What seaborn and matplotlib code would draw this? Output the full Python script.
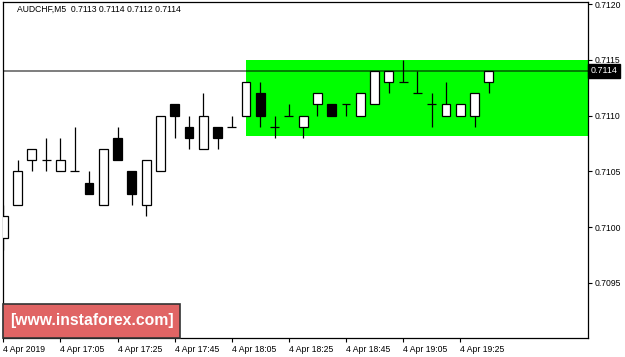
import numpy as np
import pandas as pd
import matplotlib
matplotlib.use("Agg")
import matplotlib.pyplot as plt
import matplotlib.transforms as mtransforms
from matplotlib.patches import Rectangle
import seaborn as sns

# ---- data (AUDCHF M5, 4 Apr 2019, from 16:45) ----
opens  = [0.7099, 0.7102, 0.7106, 0.7106, 0.7105, 0.7105, 0.7104, 0.7102, 0.7108, 0.7105,
          0.7102, 0.7105, 0.7111, 0.7109, 0.7107, 0.7109, 0.7109, 0.7110, 0.7112, 0.7109,
          0.7110, 0.7109, 0.7111, 0.7111, 0.7111, 0.7110, 0.7111, 0.7113, 0.7113, 0.7112,
          0.7111, 0.7110, 0.7110, 0.7110, 0.7113]
highs  = [0.7102, 0.7106, 0.7107, 0.7108, 0.7108, 0.7109, 0.7105, 0.7107, 0.7109, 0.7105,
          0.7106, 0.7110, 0.7111, 0.7110, 0.7112, 0.7109, 0.7110, 0.7113, 0.7113, 0.7110,
          0.7111, 0.7110, 0.7112, 0.7111, 0.7111, 0.7112, 0.7114, 0.7114, 0.7115, 0.7114,
          0.7112, 0.7113, 0.7111, 0.7112, 0.7114]
lows   = [0.7098, 0.7102, 0.7105, 0.7105, 0.7105, 0.7105, 0.7103, 0.7102, 0.7106, 0.7102,
          0.7101, 0.7105, 0.7108, 0.7107, 0.7107, 0.7107, 0.7109, 0.7110, 0.7109, 0.7108,
          0.7110, 0.7108, 0.7110, 0.7110, 0.7110, 0.7110, 0.7111, 0.7112, 0.7113, 0.7112,
          0.7109, 0.7110, 0.7110, 0.7109, 0.7112]
closes = [0.7101, 0.7105, 0.7107, 0.7106, 0.7106, 0.7105, 0.7103, 0.7107, 0.7106, 0.7103,
          0.7106, 0.7110, 0.7110, 0.7108, 0.7110, 0.7108, 0.7109, 0.7113, 0.7110, 0.7109,
          0.7110, 0.7110, 0.7112, 0.7110, 0.7111, 0.7112, 0.7114, 0.7114, 0.7113, 0.7112,
          0.7111, 0.7111, 0.7111, 0.7112, 0.7114]

xtick_bars   = [0, 4, 8, 12, 16, 20, 24, 28, 32]
xtick_labels = ["4 Apr 2019", "4 Apr 17:05", "4 Apr 17:25", "4 Apr 17:45", "4 Apr 18:05",
                "4 Apr 18:25", "4 Apr 18:45", "4 Apr 19:05", "4 Apr 19:25"]
ytick_values = [0.7095, 0.7100, 0.7105, 0.7110, 0.7115, 0.7120]

zone_start_bar = 17
zone_top = 0.7115
zone_bottom = 0.71082
current_price = 0.7114
title_text = "AUDCHF,M5  0.7113 0.7114 0.7112 0.7114"
watermark = "[www.instaforex.com]"

df = pd.DataFrame({"open": opens, "high": highs, "low": lows, "close": closes})
df["bar"] = np.arange(len(df))

sns.set_theme(style="white")
plt.rcParams["font.family"] = ["Liberation Sans", "DejaVu Sans"]

W, H = 625, 357
fig = plt.figure(figsize=(W / 100, H / 100), dpi=100)
ax = fig.add_axes([3 / W, 1 - 338 / H, 585 / W, 336 / H])

# zone
ax.add_patch(Rectangle((zone_start_bar, zone_bottom), 100, zone_top - zone_bottom,
                       facecolor="#00FF00", edgecolor="none", zorder=1))
# current price line
ax.axhline(current_price, color="black", alpha=0.55, lw=1.3, zorder=2)

# wicks
ax.vlines(df["bar"], df["low"], df["high"], color="black", lw=0.9, zorder=3)

# bodies
up = df[df["close"] > df["open"]]
dn = df[df["close"] < df["open"]]
dj = df[df["close"] == df["open"]]
bw = 0.62
ax.bar(up["bar"], up["close"] - up["open"], bottom=up["open"], width=bw,
       color="white", edgecolor="black", linewidth=0.9, zorder=4)
ax.bar(dn["bar"], dn["close"] - dn["open"], bottom=dn["open"], width=bw,
       color="black", edgecolor="black", linewidth=0.9, zorder=4)
ax.hlines(dj["open"], dj["bar"] - bw / 2, dj["bar"] + bw / 2, color="black", lw=0.9, zorder=4)

# limits
px_per_bar = 14.28
x0 = 3.3
ax.set_xlim((3 - x0) / px_per_bar, (588 - x0) / px_per_bar)
ax.set_ylim(0.709007, 0.712018)

# ticks
ax.set_xticks(xtick_bars)
ax.set_xticklabels(xtick_labels, ha="left")
ax.yaxis.tick_right()
ax.set_yticks(ytick_values)
ax.set_yticklabels([f"{v:.4f}" for v in ytick_values])
ax.tick_params(axis="both", direction="out", length=3, width=0.8, labelsize=6.2,
               colors="black", pad=2)
ax.tick_params(axis="x", bottom=True, pad=2)
ax.tick_params(axis="y", right=True, left=False, pad=1.5)

for s in ax.spines.values():
    s.set_visible(True)
    s.set_color("black")
    s.set_linewidth(0.9)
ax.grid(False)

# title
ax.text(14 / 585, (338 - 9) / 336, title_text, transform=ax.transAxes,
        ha="left", va="center", fontsize=6.2, color="black")

# current price label
trans = mtransforms.blended_transform_factory(ax.transAxes, ax.transData)
ax.text(1.004, current_price, f"{current_price:.4f}", transform=trans,
        ha="left", va="center", fontsize=6.4, color="white", clip_on=False,
        bbox=dict(boxstyle="square,pad=0.3", fc="black", ec="black"), zorder=10)

# watermark
fig.add_artist(Rectangle((3 / W, 1 - 338 / H), 177 / W, 34 / H, transform=fig.transFigure,
                         facecolor="#E06464", edgecolor="#333333", linewidth=1.2, zorder=20))
fig.text(91.5 / W, 1 - 321 / H, watermark, ha="center", va="center", color="white",
         fontsize=11.3, fontweight="bold", zorder=21,
         family=["Liberation Sans Narrow", "Liberation Sans", "DejaVu Sans"])

fig.savefig("out.png", dpi=100)
